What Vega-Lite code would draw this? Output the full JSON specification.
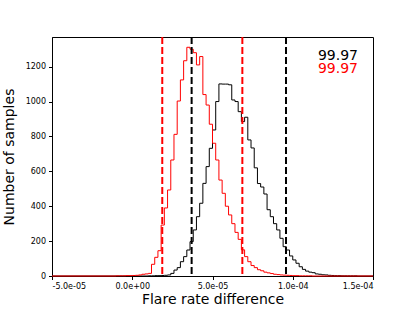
{
  "$schema": "https://vega.github.io/schema/vega-lite/v6.json",
  "width": 321,
  "height": 239,
  "autosize": {"type": "none"},
  "padding": {"left": 52, "top": 37, "right": 42, "bottom": 35},
  "background": "white",
  "config": {
    "view": {"stroke": "black", "strokeWidth": 1},
    "axis": {
      "grid": false,
      "domainColor": "black",
      "tickColor": "black",
      "tickSize": 3.5,
      "tickWidth": 1,
      "labelColor": "black",
      "labelFont": "DejaVu Sans",
      "labelFontSize": 8,
      "labelPadding": 3,
      "labelOverlap": false,
      "titleFont": "DejaVu Sans",
      "titleFontSize": 14,
      "titleFontWeight": "normal",
      "titleColor": "black"
    }
  },
  "datasets": {
    "hist": [
      {"s": "A", "x": -5e-5, "c": 0},
      {"s": "A", "x": 1.0e-5, "c": 1},
      {"s": "A", "x": 1.2e-5, "c": 1},
      {"s": "A", "x": 1.4e-5, "c": 2},
      {"s": "A", "x": 1.6e-5, "c": 2},
      {"s": "A", "x": 1.8e-5, "c": 3},
      {"s": "A", "x": 2.0e-5, "c": 4},
      {"s": "A", "x": 2.2e-5, "c": 6},
      {"s": "A", "x": 2.4e-5, "c": 15},
      {"s": "A", "x": 2.6e-5, "c": 34},
      {"s": "A", "x": 2.8e-5, "c": 48},
      {"s": "A", "x": 3.0e-5, "c": 82},
      {"s": "A", "x": 3.2e-5, "c": 111},
      {"s": "A", "x": 3.4e-5, "c": 149},
      {"s": "A", "x": 3.6e-5, "c": 197},
      {"s": "A", "x": 3.8e-5, "c": 264},
      {"s": "A", "x": 4.0e-5, "c": 340},
      {"s": "A", "x": 4.2e-5, "c": 417},
      {"s": "A", "x": 4.4e-5, "c": 531},
      {"s": "A", "x": 4.6e-5, "c": 627},
      {"s": "A", "x": 4.8e-5, "c": 732},
      {"s": "A", "x": 5.0e-5, "c": 837},
      {"s": "A", "x": 5.2e-5, "c": 1000},
      {"s": "A", "x": 5.4e-5, "c": 1101},
      {"s": "A", "x": 5.6e-5, "c": 1100},
      {"s": "A", "x": 5.8e-5, "c": 1100},
      {"s": "A", "x": 6.0e-5, "c": 1096},
      {"s": "A", "x": 6.2e-5, "c": 1009},
      {"s": "A", "x": 6.4e-5, "c": 1000},
      {"s": "A", "x": 6.6e-5, "c": 942},
      {"s": "A", "x": 6.8e-5, "c": 885},
      {"s": "A", "x": 7.0e-5, "c": 910},
      {"s": "A", "x": 7.2e-5, "c": 780},
      {"s": "A", "x": 7.4e-5, "c": 734},
      {"s": "A", "x": 7.6e-5, "c": 620},
      {"s": "A", "x": 7.8e-5, "c": 530},
      {"s": "A", "x": 8.0e-5, "c": 510},
      {"s": "A", "x": 8.2e-5, "c": 470},
      {"s": "A", "x": 8.4e-5, "c": 380},
      {"s": "A", "x": 8.6e-5, "c": 340},
      {"s": "A", "x": 8.8e-5, "c": 300},
      {"s": "A", "x": 9.0e-5, "c": 264},
      {"s": "A", "x": 9.2e-5, "c": 216},
      {"s": "A", "x": 9.4e-5, "c": 168},
      {"s": "A", "x": 9.6e-5, "c": 149},
      {"s": "A", "x": 9.8e-5, "c": 115},
      {"s": "A", "x": 1.00e-4, "c": 92},
      {"s": "A", "x": 1.02e-4, "c": 73},
      {"s": "A", "x": 1.04e-4, "c": 53},
      {"s": "A", "x": 1.06e-4, "c": 38},
      {"s": "A", "x": 1.08e-4, "c": 28},
      {"s": "A", "x": 1.10e-4, "c": 22},
      {"s": "A", "x": 1.12e-4, "c": 19},
      {"s": "A", "x": 1.14e-4, "c": 12},
      {"s": "A", "x": 1.16e-4, "c": 10},
      {"s": "A", "x": 1.18e-4, "c": 7},
      {"s": "A", "x": 1.20e-4, "c": 6},
      {"s": "A", "x": 1.22e-4, "c": 4},
      {"s": "A", "x": 1.24e-4, "c": 3},
      {"s": "A", "x": 1.26e-4, "c": 2},
      {"s": "A", "x": 1.28e-4, "c": 2},
      {"s": "A", "x": 1.30e-4, "c": 1},
      {"s": "A", "x": 1.32e-4, "c": 1},
      {"s": "A", "x": 1.34e-4, "c": 1},
      {"s": "A", "x": 1.36e-4, "c": 1},
      {"s": "A", "x": 1.38e-4, "c": 1},
      {"s": "A", "x": 1.40e-4, "c": 0},
      {"s": "A", "x": 1.5e-4, "c": 0},
      {"s": "B", "x": -5e-5, "c": 0},
      {"s": "B", "x": -1.0e-5, "c": 1},
      {"s": "B", "x": -8e-6, "c": 1},
      {"s": "B", "x": -6e-6, "c": 1},
      {"s": "B", "x": -4e-6, "c": 2},
      {"s": "B", "x": -2e-6, "c": 2},
      {"s": "B", "x": 0, "c": 3},
      {"s": "B", "x": 2e-6, "c": 4},
      {"s": "B", "x": 4e-6, "c": 6},
      {"s": "B", "x": 6e-6, "c": 10},
      {"s": "B", "x": 8e-6, "c": 12},
      {"s": "B", "x": 1.0e-5, "c": 15},
      {"s": "B", "x": 1.2e-5, "c": 67},
      {"s": "B", "x": 1.4e-5, "c": 107},
      {"s": "B", "x": 1.6e-5, "c": 145},
      {"s": "B", "x": 1.8e-5, "c": 292},
      {"s": "B", "x": 2.0e-5, "c": 390},
      {"s": "B", "x": 2.2e-5, "c": 493},
      {"s": "B", "x": 2.4e-5, "c": 665},
      {"s": "B", "x": 2.6e-5, "c": 812},
      {"s": "B", "x": 2.8e-5, "c": 1003},
      {"s": "B", "x": 3.0e-5, "c": 1124},
      {"s": "B", "x": 3.2e-5, "c": 1234},
      {"s": "B", "x": 3.4e-5, "c": 1311},
      {"s": "B", "x": 3.6e-5, "c": 1300},
      {"s": "B", "x": 3.8e-5, "c": 1280},
      {"s": "B", "x": 4.0e-5, "c": 1210},
      {"s": "B", "x": 4.2e-5, "c": 1258},
      {"s": "B", "x": 4.4e-5, "c": 1040},
      {"s": "B", "x": 4.6e-5, "c": 980},
      {"s": "B", "x": 4.8e-5, "c": 870},
      {"s": "B", "x": 5.0e-5, "c": 761},
      {"s": "B", "x": 5.2e-5, "c": 665},
      {"s": "B", "x": 5.4e-5, "c": 550},
      {"s": "B", "x": 5.6e-5, "c": 474},
      {"s": "B", "x": 5.8e-5, "c": 400},
      {"s": "B", "x": 6.0e-5, "c": 350},
      {"s": "B", "x": 6.2e-5, "c": 300},
      {"s": "B", "x": 6.4e-5, "c": 250},
      {"s": "B", "x": 6.6e-5, "c": 210},
      {"s": "B", "x": 6.8e-5, "c": 150},
      {"s": "B", "x": 7.0e-5, "c": 111},
      {"s": "B", "x": 7.2e-5, "c": 82},
      {"s": "B", "x": 7.4e-5, "c": 60},
      {"s": "B", "x": 7.6e-5, "c": 48},
      {"s": "B", "x": 7.8e-5, "c": 36},
      {"s": "B", "x": 8.0e-5, "c": 30},
      {"s": "B", "x": 8.2e-5, "c": 22},
      {"s": "B", "x": 8.4e-5, "c": 18},
      {"s": "B", "x": 8.6e-5, "c": 14},
      {"s": "B", "x": 8.8e-5, "c": 10},
      {"s": "B", "x": 9.0e-5, "c": 8},
      {"s": "B", "x": 9.2e-5, "c": 6},
      {"s": "B", "x": 9.4e-5, "c": 5},
      {"s": "B", "x": 9.6e-5, "c": 4},
      {"s": "B", "x": 9.8e-5, "c": 3},
      {"s": "B", "x": 1.00e-4, "c": 2},
      {"s": "B", "x": 1.02e-4, "c": 2},
      {"s": "B", "x": 1.04e-4, "c": 1},
      {"s": "B", "x": 1.06e-4, "c": 1},
      {"s": "B", "x": 1.08e-4, "c": 1},
      {"s": "B", "x": 1.10e-4, "c": 1},
      {"s": "B", "x": 1.12e-4, "c": 0},
      {"s": "B", "x": 1.5e-4, "c": 0}
    ],
    "bounds": [
      {"s": "A", "x": 3.70e-5},
      {"s": "A", "x": 9.58e-5},
      {"s": "B", "x": 1.87e-5},
      {"s": "B", "x": 6.86e-5}
    ],
    "labels": [
      {"s": "A", "label": "99.97"},
      {"s": "B", "label": "99.97"}
    ]
  },
  "encoding": {
    "x": {
      "type": "quantitative",
      "scale": {"domain": [-5e-5, 1.5e-4], "nice": false, "zero": false},
      "axis": {
        "values": [-5e-5, 0, 5e-5, 1e-4, 1.5e-4],
        "title": "Flare rate difference",
        "titlePadding": 2,
        "labelExpr": "replace(replace(format(datum.value, '.1e'), '\u2212', '-'), regexp('e([+-])([0-9])$'), 'e$10$2')"
      }
    },
    "y": {
      "type": "quantitative",
      "scale": {"domain": [0, 1370], "nice": false},
      "axis": {
        "values": [0, 200, 400, 600, 800, 1000, 1200],
        "tickCount": 7,
        "format": "d",
        "title": "Number of samples",
        "titlePadding": 9
      }
    }
  },
  "layer": [
    {
      "data": {"name": "hist"},
      "transform": [{"filter": "datum.s == 'A'"}],
      "mark": {"type": "line", "interpolate": "step-after", "strokeWidth": 1, "color": "black"},
      "encoding": {
        "x": {"field": "x", "type": "quantitative"},
        "y": {"field": "c", "type": "quantitative"}
      }
    },
    {
      "data": {"name": "hist"},
      "transform": [{"filter": "datum.s == 'B'"}],
      "mark": {"type": "line", "interpolate": "step-after", "strokeWidth": 1, "color": "red"},
      "encoding": {
        "x": {"field": "x", "type": "quantitative"},
        "y": {"field": "c", "type": "quantitative"}
      }
    },
    {
      "data": {"name": "bounds"},
      "mark": {"type": "rule", "strokeWidth": 2, "strokeDash": [7, 3]},
      "encoding": {
        "x": {"field": "x", "type": "quantitative"},
        "y": null,
        "color": {"field": "s", "type": "nominal", "scale": {"domain": ["A", "B"], "range": ["black", "red"]}, "legend": null}
      }
    },
    {
      "data": {"name": "labels"},
      "transform": [{"filter": "datum.s == 'A'"}],
      "mark": {"type": "text", "align": "left", "baseline": "alphabetic", "font": "DejaVu Sans", "fontSize": 14, "color": "black"},
      "encoding": {
        "x": {"datum": 1.157e-4, "type": "quantitative"},
        "y": {"datum": 1240, "type": "quantitative"},
        "text": {"field": "label"}
      }
    },
    {
      "data": {"name": "labels"},
      "transform": [{"filter": "datum.s == 'B'"}],
      "mark": {"type": "text", "align": "left", "baseline": "alphabetic", "font": "DejaVu Sans", "fontSize": 14, "color": "red"},
      "encoding": {
        "x": {"datum": 1.157e-4, "type": "quantitative"},
        "y": {"datum": 1164, "type": "quantitative"},
        "text": {"field": "label"}
      }
    }
  ]
}
